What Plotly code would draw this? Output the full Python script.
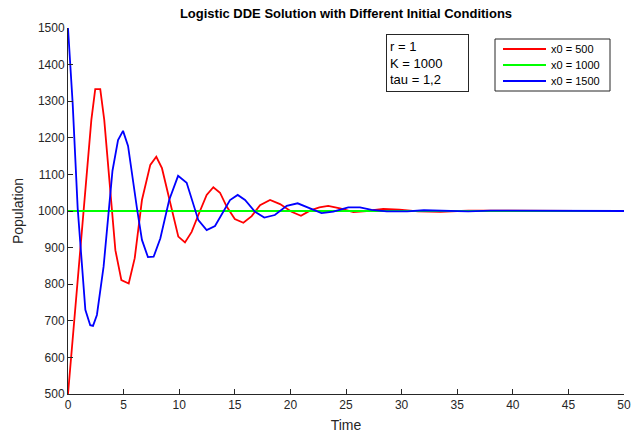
import plotly.graph_objects as go

# ---- data ----
t_red = [0, 0.7, 1.4, 2.1, 2.45, 2.9, 3.26, 4.26, 4.8, 5.46, 6.0, 6.65, 7.4, 7.94, 8.45,
         9.3, 9.92, 10.52, 11.12, 11.72, 12.47, 13.07, 13.67, 14.27, 15.0, 15.77, 16.52,
         17.27, 18.17, 19.07, 20.1, 20.95, 21.76, 22.6, 23.4, 24.46, 25.66, 26.86, 28.35,
         29.8, 31.5, 33.5, 36, 39, 42, 46, 50]
x_red = [500, 745, 1000, 1249, 1333, 1333, 1249, 893, 811, 802, 871, 1030, 1126, 1148, 1117,
         1008, 930, 914, 943, 989, 1044, 1065, 1050, 1012, 978, 968, 986,
         1016, 1030, 1019, 998, 987, 1001, 1010, 1014, 1007, 997, 1000, 1006,
         1004, 999, 998, 1001, 1001, 1000, 1000, 1000]

t_green = [0, 50]
x_green = [1000, 1000]

t_blue = [0, 0.42, 0.87, 1.1, 1.56, 2.0, 2.25, 2.6, 3.2, 4.0, 4.5, 4.95, 5.4, 6.2, 6.65,
          7.19, 7.7, 8.3, 9.1, 9.9, 10.67, 11.72, 12.47, 13.22, 14.57, 15.26, 15.92,
          16.82, 17.65, 18.6, 19.67, 20.65, 22.8, 23.86, 25.2, 26.26, 27.3, 28.66, 30.5,
          32, 34, 36, 38, 42, 46, 50]
x_blue = [1500, 1294, 1008, 912, 730, 688, 686, 716, 848, 1110, 1194, 1219, 1178, 1008, 921,
          874, 875, 925, 1030, 1096, 1077, 975, 948, 959, 1030, 1044, 1030,
          998, 982, 989, 1014, 1021, 994, 998, 1010, 1010, 1003, 999, 999,
          1002, 1000, 999, 1001, 1000, 1000, 1000]

names = ["x0 = 500", "x0 = 1000", "x0 = 1500"]
colors = ["#ff0000", "#00ff00", "#0000ff"]

x_ticks = list(range(0, 51, 5))
y_ticks = list(range(500, 1501, 100))

FONT = "Liberation Sans, Arial, sans-serif"
AX = "#262626"
W, H = 631, 436
L, R, T, B = 68, 7, 28, 42
PW, PH = W - L - R, H - T - B


def px(xpix):
    return (xpix - L) / PW


def py(ypix):
    return (H - B - ypix) / PH


fig = go.Figure()
for t, x, n, c in zip([t_red, t_green, t_blue], [x_red, x_green, x_blue], names, colors):
    fig.add_trace(go.Scatter(x=t, y=x, mode="lines", name=n, showlegend=False,
                             line=dict(color=c, width=1.8)))

fig.update_layout(
    width=W, height=H,
    margin=dict(l=L, r=R, t=T, b=B),
    paper_bgcolor="white", plot_bgcolor="white",
    font=dict(family=FONT, color=AX, size=12),
    title=dict(text="<b>Logistic DDE Solution with Different Initial Conditions</b>",
               x=346 / W, xanchor="center", y=1 - 13 / H, yanchor="middle",
               font=dict(size=13, color="black", family=FONT)),
    showlegend=False,
)

fig.update_xaxes(range=[0, 50], tickvals=x_ticks, ticks="inside", ticklen=5,
                 tickcolor=AX, showline=True, linecolor=AX, linewidth=1,
                 showgrid=False, zeroline=False, mirror=False, automargin=False,
                 title=dict(text="Time", font=dict(size=14, color=AX), standoff=8))
fig.update_yaxes(range=[500, 1500], tickvals=y_ticks, ticks="inside", ticklen=5,
                 tickcolor=AX, showline=True, linecolor=AX, linewidth=1,
                 showgrid=False, zeroline=False, mirror=False, automargin=False,
                 title=dict(text="Population", font=dict(size=14, color=AX), standoff=10))

# parameter text box
fig.add_annotation(xref="paper", yref="paper",
                   x=px(386), y=py(34), xanchor="left", yanchor="top",
                   text="r = 1<br>K = 1000<br>tau = 1,2", align="left", showarrow=False,
                   width=75, height=50, valign="middle",
                   bordercolor=AX, borderwidth=1, borderpad=3, bgcolor="white",
                   font=dict(size=13, color="black", family=FONT))

# legend box (drawn by hand to match the compact row spacing)
fig.add_shape(type="rect", xref="paper", yref="paper",
              x0=px(495), x1=px(610), y0=py(91), y1=py(39),
              line=dict(color=AX, width=1), fillcolor="white", layer="above")
for i, (n, c) in enumerate(zip(names, colors)):
    yy = py(49 + 16 * i)
    fig.add_shape(type="line", xref="paper", yref="paper",
                  x0=px(503), x1=px(546), y0=yy, y1=yy,
                  line=dict(color=c, width=1.8), layer="above")
    fig.add_annotation(xref="paper", yref="paper", x=px(549), y=yy,
                       xanchor="left", yanchor="middle", text=n, showarrow=False,
                       font=dict(size=11, color="black", family=FONT))

fig.write_html("out.html", config={"displayModeBar": False},
               post_script="document.body.style.margin='0';")
